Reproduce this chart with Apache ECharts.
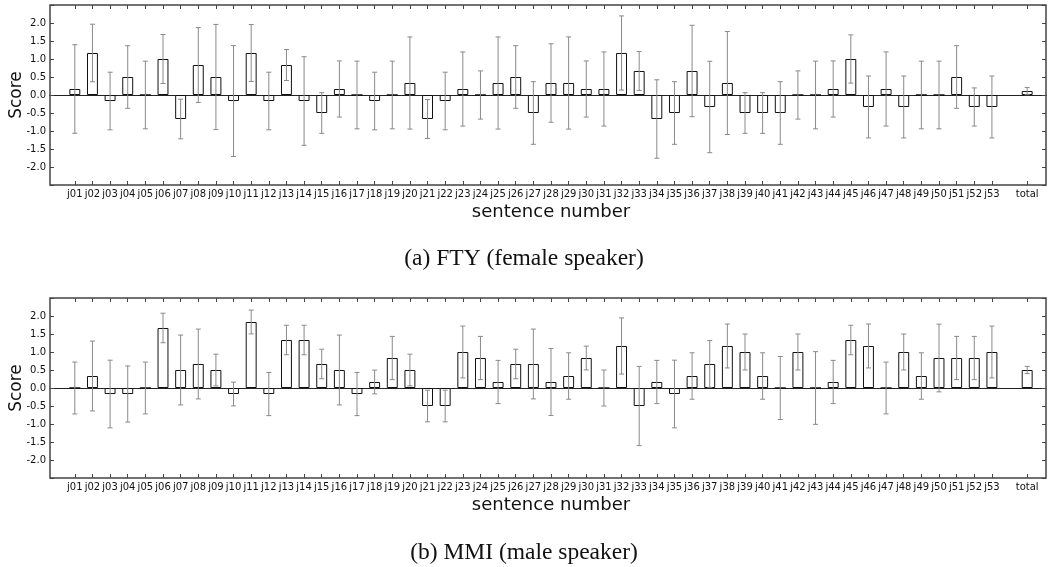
<!DOCTYPE html>
<html><head><meta charset="utf-8">
<script src="https://cdn.jsdelivr.net/npm/echarts@6/dist/echarts.min.js"></script>
<style>html,body{margin:0;padding:0;background:#fff}#c{width:1048px;height:567px}</style>
</head><body><div id="c"></div>
<script>
const categories = ['j01','j02','j03','j04','j05','j06','j07','j08','j09','j10',
  'j11','j12','j13','j14','j15','j16','j17','j18','j19','j20',
  'j21','j22','j23','j24','j25','j26','j27','j28','j29','j30',
  'j31','j32','j33','j34','j35','j36','j37','j38','j39','j40',
  'j41','j42','j43','j44','j45','j46','j47','j48','j49','j50',
  'j51','j52','j53','','total'];

// FTY (female speaker): mean score and error half-length per sentence (null = gap)
const ftyMean = [0.167,1.167,-0.167,0.5,0,1.0,-0.667,0.833,0.5,-0.167,
  1.167,-0.167,0.833,-0.167,-0.5,0.167,0,-0.167,0,0.333,
  -0.667,-0.167,0.167,0,0.333,0.5,-0.5,0.333,0.333,0.167,
  0.167,1.167,0.667,-0.667,-0.5,0.667,-0.333,0.333,-0.5,-0.5,
  -0.5,0,0,0.167,1.0,-0.333,0.167,-0.333,0,0,
  0.5,-0.333,-0.333,null,0.11];
const ftyErr = [1.23,0.80,0.80,0.87,0.94,0.68,0.55,1.04,1.46,1.54,
  0.79,0.80,0.43,1.23,0.565,0.78,0.94,0.80,0.94,1.28,
  0.54,0.80,1.03,0.67,1.28,0.87,0.87,1.09,1.28,0.78,
  1.03,1.03,0.54,1.09,0.87,1.27,1.27,1.43,0.565,0.565,
  0.87,0.67,0.94,0.78,0.67,0.86,1.03,0.86,0.94,0.94,
  0.87,0.53,0.86,null,0.10];

// MMI (male speaker)
const mmiMean = [0,0.333,-0.167,-0.167,0,1.667,0.5,0.667,0.5,-0.167,
  1.833,-0.167,1.333,1.333,0.667,0.5,-0.167,0.167,0.833,0.5,
  -0.5,-0.5,1.0,0.833,0.167,0.667,0.667,0.167,0.333,0.833,
  0,1.167,-0.5,0.167,-0.167,0.333,0.667,1.167,1.0,0.333,
  0,1.0,0,0.167,1.333,1.167,0,1.0,0.333,0.833,
  0.833,0.833,1.0,null,0.5];
const mmiErr = [0.72,0.97,0.94,0.78,0.72,0.41,0.97,0.97,0.44,0.33,
  0.33,0.60,0.41,0.41,0.41,0.97,0.60,0.33,0.60,0.44,
  0.44,0.44,0.72,0.60,0.60,0.41,0.97,0.93,0.645,0.33,
  0.50,0.78,1.10,0.60,0.94,0.645,0.65,0.61,0.50,0.645,
  0.875,0.50,1.01,0.60,0.41,0.61,0.72,0.50,0.645,0.94,
  0.60,0.60,0.72,null,0.10];

const captions = ['(a) FTY (female speaker)', '(b) MMI (male speaker)'];
const xAxisName = 'sentence number';
const yAxisName = 'Score';

const FONT = 'DejaVu Sans';
const FRAME = '#444';
const panels = [
  {top: 5, mean: ftyMean, err: ftyErr, caption: captions[0], capTop: 242},
  {top: 298, mean: mmiMean, err: mmiErr, caption: captions[1], capTop: 536}
];

const grid = [], xAxis = [], yAxis = [], series = [], title = [];
panels.forEach((p, i) => {
  const gA = grid.length;
  grid.push({left: 50, top: p.top, width: 996, height: 180, show: true,
    containLabel: false, outerBoundsMode: 'none',
    borderColor: FRAME, borderWidth: 1.5, backgroundColor: 'transparent'});
  const gB = grid.length;
  grid.push({left: 66, top: p.top, width: 970, height: 180,
    containLabel: false, outerBoundsMode: 'none'});

  // frame grid: zero line
  xAxis.push({gridIndex: gA, type: 'value', min: 0, max: 1, position: 'bottom',
    axisLine: {show: true, onZero: true, lineStyle: {color: '#222', width: 1}},
    axisTick: {show: false}, axisLabel: {show: false}, splitLine: {show: false}});
  const xBot = xAxis.length;
  xAxis.push({gridIndex: gB, type: 'category', data: categories, position: 'bottom',
    name: xAxisName, nameLocation: 'middle', nameGap: 18,
    nameTextStyle: {fontFamily: FONT, fontSize: 18, color: '#111'},
    axisLine: {show: false, onZero: false},
    axisTick: {show: true, inside: true, length: 4, alignWithLabel: true,
      interval: (idx, val) => val !== '', lineStyle: {color: FRAME}},
    axisLabel: {interval: 0, margin: 4, fontFamily: FONT, fontSize: 10, color: '#111'},
    splitLine: {show: false}});
  xAxis.push({gridIndex: gB, type: 'category', data: categories, position: 'top',
    axisLine: {show: false, onZero: false},
    axisTick: {show: true, inside: true, length: 4, alignWithLabel: true,
      interval: (idx, val) => val !== '', lineStyle: {color: FRAME}},
    axisLabel: {show: false}, splitLine: {show: false}});

  yAxis.push({gridIndex: gA, type: 'value', min: -2.5, max: 2.5, interval: 0.5, position: 'left',
    name: yAxisName, nameLocation: 'middle', nameGap: 25, nameMoveOverlap: false,
    nameTextStyle: {fontFamily: FONT, fontSize: 17, color: '#111'},
    axisLine: {show: false},
    axisTick: {show: true, inside: true, length: 4, lineStyle: {color: FRAME}},
    axisLabel: {margin: 4, fontFamily: FONT, fontSize: 10, color: '#111',
      formatter: v => Math.abs(v) > 2.25 ? '' : v.toFixed(1)},
    splitLine: {show: false}});
  yAxis.push({gridIndex: gA, type: 'value', min: -2.5, max: 2.5, interval: 0.5, position: 'right',
    axisLine: {show: false},
    axisTick: {show: true, inside: true, length: 4, lineStyle: {color: FRAME}},
    axisLabel: {show: false}, splitLine: {show: false}});
  const yData = yAxis.length;
  yAxis.push({gridIndex: gB, type: 'value', min: -2.5, max: 2.5, show: false, splitLine: {show: false}});

  series.push({type: 'bar', xAxisIndex: xBot, yAxisIndex: yData,
    data: p.mean.map(v => v === null ? '-' : v), barWidth: '62%', z: 3,
    itemStyle: {color: '#fff', borderColor: '#111', borderWidth: 1}, silent: true});
  series.push({type: 'custom', xAxisIndex: xBot, yAxisIndex: yData, z: 4, silent: true,
    data: p.mean.map((v, k) => v === null ? null : [k, v, p.err[k]]).filter(d => d),
    encode: {x: 0, y: 1},
    renderItem: function (params, api) {
      const x = api.value(0), m = api.value(1), e = api.value(2);
      const a = api.coord([x, m + e]), b = api.coord([x, m - e]);
      const hw = 2.5, st = {stroke: '#8a8a8a', lineWidth: 1};
      return {type: 'group', children: [
        {type: 'line', shape: {x1: a[0], y1: a[1], x2: b[0], y2: b[1]}, style: st},
        {type: 'line', shape: {x1: a[0] - hw, y1: a[1], x2: a[0] + hw, y2: a[1]}, style: st},
        {type: 'line', shape: {x1: b[0] - hw, y1: b[1], x2: b[0] + hw, y2: b[1]}, style: st}
      ]};
    }});

  title.push({text: p.caption, left: 'center', top: p.capTop,
    textStyle: {fontFamily: 'Liberation Serif', fontSize: 23.5, fontWeight: 'normal', color: '#111'}});
});

const chart = echarts.init(document.getElementById('c'), null, {renderer: 'canvas'});
chart.setOption({animation: false, backgroundColor: '#fff', title, grid, xAxis, yAxis, series});
</script></body></html>
